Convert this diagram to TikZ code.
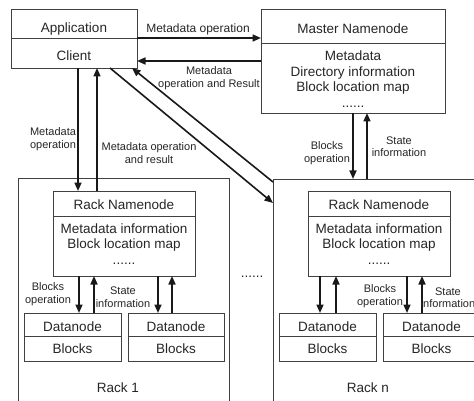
\documentclass[tikz,border=0pt]{standalone}
\usepackage{fontspec}
\setmainfont{Liberation Sans}
\usetikzlibrary{arrows.meta,calc}
\begin{document}
\tikzset{
  box/.style={draw=black!75, line width=0.8pt, inner sep=0pt, outer sep=0pt, rectangle},
  big/.style={font=\fontsize{13.5}{15.5}\selectfont, text=black!85, inner sep=0pt,
              text height=9.7pt, text depth=0pt},
  lab/.style={font=\fontsize{11}{12.5}\selectfont, text=black!85, align=center, inner sep=0pt},
  arr/.style={-{Triangle[length=8.5pt,width=7pt]}, line width=1.6pt, draw=black!90},
}
\begin{tikzpicture}[x=1pt,y=-1pt]
\useasboundingbox (0,0) rectangle (474,401);
\clip (0,0) rectangle (474,401);
\fill[white] (0,0) rectangle (474,401);

% ---- application / client ----
\node[box, minimum width=126pt, minimum height=29pt] (app) at (74,23.5) {};
\node[box, minimum width=126pt, minimum height=30pt] (client) at (74,53) {};
\node[big] (apptxt) at (74,27.5) {Application};
\node[big] (clitxt) at (74,55.5) {Client};

% ---- master namenode ----
\node[box, minimum width=184pt, minimum height=34pt] (mtitle) at (353,26) {};
\node[box, minimum width=184pt, minimum height=70pt] (mbody) at (353,78) {};
\node[big] (mtxt) at (353,29) {Master Namenode};
\node[big] (mtxt1) at (353,56) {Metadata};
\node[big] (mtxt2) at (353,71.5) {Directory information};
\node[big] (mtxt3) at (353,87) {Block location map};
\node[big] (mtxt4) at (353,102.5) {......};

% ---- racks ----
\node[box, minimum width=211pt, minimum height=242pt] (rack1) at (123.5,299) {};
\node[box, minimum width=227pt, minimum height=241pt] (rackn) at (386.5,299.5) {};
\node[big] (rack1txt) at (118,388) {Rack 1};
\node[big] (rackntxt) at (368,388) {Rack n};
\node[big] (between) at (252,273) {......};

% ---- rack namenodes ----
\foreach \nm/\cx in {r1/124, rn/379}{
  \node[box, minimum width=142pt, minimum height=25pt] (\nm t) at (\cx,203.5) {};
  \node[box, minimum width=142pt, minimum height=60pt] (\nm b) at (\cx,246) {};
  \node[big] (\nm txt) at (\cx,205) {Rack Namenode};
  \node[big] (\nm txt1) at (\cx,228.3) {Metadata information};
  \node[big] (\nm txt2) at (\cx,243.5) {Block location map};
  \node[big] (\nm txt3) at (\cx,259.5) {......};
}

% ---- datanodes ----
\foreach \nm/\cx/\w in {d11/72.5/97, d12/176/96, dn1/327.5/97, dn2/431.5/97}{
  \node[box, minimum width=\w pt, minimum height=23pt] (\nm) at (\cx,324.5) {};
  \node[box, minimum width=\w pt, minimum height=25pt] (\nm b) at (\cx,348.5) {};
  \node[big] (\nm txt) at (\cx,326.5) {Datanode};
  \node[big] (\nm btxt) at (\cx,348.5) {Blocks};
}

% ---- client <-> master ----
\draw[arr] (client.north east) -- (client.north east -| mtitle.west);
\coordinate (ret) at ($(client.east -| mbody.west)+(0,8)$);
\draw[arr] (ret) -- (ret -| client.east);
\node[lab, font=\fontsize{12}{13}\selectfont] (lmo) at (198,29) {Metadata operation};
\node[lab] (lmor) at (209,78) {Metadata\\operation and Result};

% ---- client <-> rack 1 ----
\coordinate (c1) at ($(client.south)+(4,0)$);
\coordinate (c2) at ($(client.south)+(23,0)$);
\draw[arr] (c1) -- (c1 |- r1t.north);
\draw[arr] (c2 |- r1t.north) -- (c2);
\node[lab] (lmo2) at (53,139) {Metadata\\operation};
\node[lab] (lmor2) at (149,153) {Metadata operation\\and result};

% ---- client <-> rack n ----
\draw[arr] ($(client.south)+(36,0)$) -- ($(rackn.north west)+(0,24)$);
\draw[arr] ($(rackn.north west)+(0,3)$) -- ($(client.south east)+(-5,0)$);

% ---- master <-> rack n ----
\coordinate (m1) at (mbody.south);
\coordinate (m2) at ($(mbody.south)+(14,0)$);
\draw[arr] (m1) -- (m1 |- rackn.north);
\draw[arr] (m2 |- rackn.north) -- (m2);
\node[lab] (lbom) at (327,153) {Blocks\\operation};
\node[lab] (lsim) at (399,146.5) {State\\information};

% ---- rack namenodes <-> datanodes ----
\foreach \nm/\da/\ua/\db/\ub in {r1/-45/-30/34/48, rn/-59/-43/28/43}{
  \coordinate (\nm a) at ($(\nm b.south)+(\da,0)$);
  \coordinate (\nm u) at ($(\nm b.south)+(\ua,0)$);
  \coordinate (\nm c) at ($(\nm b.south)+(\db,0)$);
  \coordinate (\nm v) at ($(\nm b.south)+(\ub,0)$);
  \draw[arr] (\nm a) -- (\nm a |- d11.north);
  \draw[arr] (\nm u |- d11.north) -- (\nm u);
  \draw[arr] (\nm c) -- (\nm c |- d11.north);
  \draw[arr] (\nm v |- d11.north) -- (\nm v);
}
\node[lab] (lbo1) at (48,294) {Blocks\\operation};
\node[lab] (lsi1) at (123,297) {State\\information};
\node[lab] (lbon) at (380,296) {Blocks\\operation};
\node[lab] (lsin) at (448,297.5) {State\\information};
\end{tikzpicture}
\end{document}
